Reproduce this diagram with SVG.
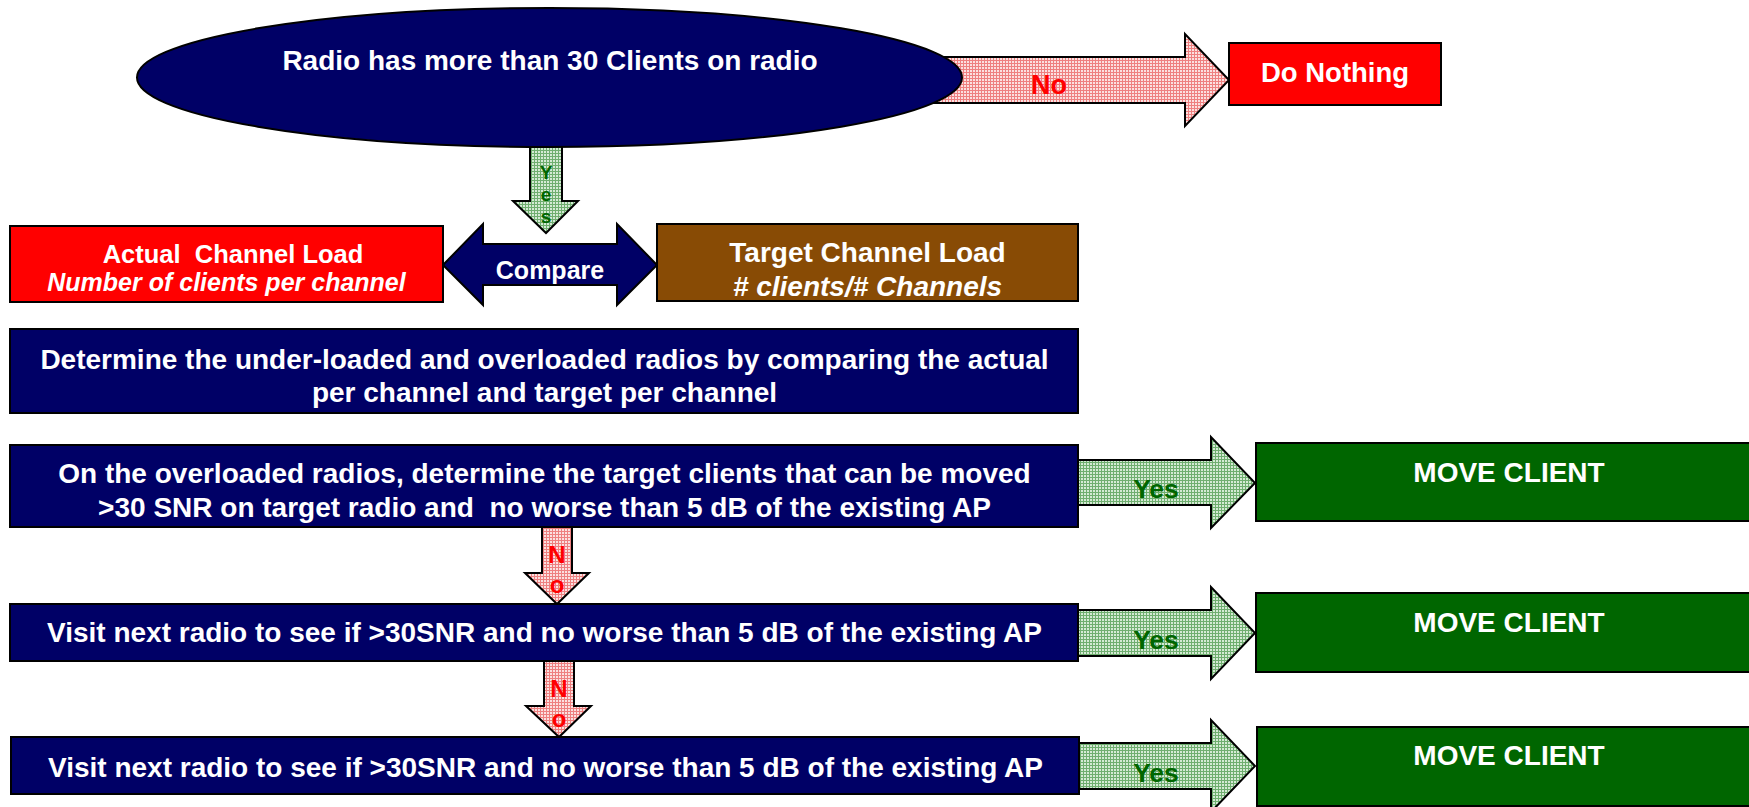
<svg xmlns="http://www.w3.org/2000/svg" width="1749" height="807" viewBox="0 0 1749 807">
  <defs>
    <!-- fine mesh fills for the decision arrows -->
    <pattern id="meshRed" width="3" height="3" patternUnits="userSpaceOnUse">
      <rect width="3" height="3" fill="#fbe0e0"/>
      <rect width="3" height="1" fill="#ee8080"/>
      <rect width="1" height="3" fill="#ee8080"/>
    </pattern>
    <pattern id="meshGreen" width="3" height="3" patternUnits="userSpaceOnUse">
      <rect width="3" height="3" fill="#d4ead4"/>
      <rect width="3" height="1" fill="#6fae6f"/>
      <rect width="1" height="3" fill="#6fae6f"/>
    </pattern>
    <style>
      text { font-family: "Liberation Sans", Arial, sans-serif; font-weight: bold; text-anchor: middle; }
      .box { stroke: #000; stroke-width: 2; }
      .navy { fill: #000066; }
      .red { fill: #ff0000; }
      .brown { fill: #884b05; }
      .green { fill: #006600; }
      .arrowNo { fill: url(#meshRed); stroke: #000; stroke-width: 2; stroke-linejoin: miter; }
      .arrowYes { fill: url(#meshGreen); stroke: #000; stroke-width: 2; stroke-linejoin: miter; }
      .arrowNavy { fill: #000066; stroke: #000; stroke-width: 2; }
      .w { fill: #ffffff; }
      .lblNo { fill: #ff0000; }
      .lblYes { fill: #006600; }
      .t28 { font-size: 28px; }
      .t25 { font-size: 25px; }
      .it { font-style: italic; }
    </style>
  </defs>

  <!-- connectors (drawn first so the shapes sit on top of their ends) -->
  <g id="connectors">
    <!-- No: start -> Do Nothing -->
    <g id="arrow-no-top">
      <polygon class="arrowNo" points="880,57 1185,57 1185,34 1229,80 1185,126 1185,103 880,103"/>
      <text class="lblNo" x="1049" y="94" style="font-size:27px">No</text>
    </g>
    <!-- Yes: start -> compare -->
    <g id="arrow-yes-down">
      <polygon class="arrowYes" points="530,135 562,135 562,201 578,201 546,233 513,201 530,201"/>
      <text class="lblYes" x="546" y="179" style="font-size:19px">Y</text>
      <text class="lblYes" x="546" y="201" style="font-size:19px">e</text>
      <text class="lblYes" x="546" y="223" style="font-size:19px">s</text>
    </g>
    <!-- Compare: double-headed arrow -->
    <g id="arrow-compare">
      <polygon class="arrowNavy" points="443,265 483,224 483,244 617,244 617,224 657,265 617,305 617,285 483,285 483,305"/>
      <text class="w" x="550" y="279" style="font-size:25px">Compare</text>
    </g>
    <!-- No: overloaded -> visit 1 -->
    <g id="arrow-no-1">
      <polygon class="arrowNo" points="542,527 572,527 572,573 589,573 557,604 525,573 542,573"/>
      <text class="lblNo" x="557" y="563" style="font-size:24px">N</text>
      <text class="lblNo" x="557" y="593" style="font-size:24px">o</text>
    </g>
    <!-- No: visit 1 -> visit 2 -->
    <g id="arrow-no-2">
      <polygon class="arrowNo" points="544,660 574,660 574,706 591,706 559,737 526,706 544,706"/>
      <text class="lblNo" x="559" y="697" style="font-size:24px">N</text>
      <text class="lblNo" x="559" y="727" style="font-size:24px">o</text>
    </g>
    <!-- Yes arrows to MOVE CLIENT -->
    <g id="arrow-yes-1">
      <polygon class="arrowYes" points="1078,460 1211,460 1211,437 1255,483 1211,528 1211,505 1078,505"/>
      <text class="lblYes" x="1156" y="498" style="font-size:26.5px">Yes</text>
    </g>
    <g id="arrow-yes-2">
      <polygon class="arrowYes" points="1078,610 1211,610 1211,587 1255,633 1211,679 1211,656 1078,656"/>
      <text class="lblYes" x="1156" y="649" style="font-size:26.5px">Yes</text>
    </g>
    <g id="arrow-yes-3">
      <polygon class="arrowYes" points="1079,743 1211,743 1211,720 1255,766 1211,812 1211,789 1079,789"/>
      <text class="lblYes" x="1156" y="782" style="font-size:26.5px">Yes</text>
    </g>
  </g>

  <!-- start condition -->
  <g id="node-start">
    <ellipse class="box navy" cx="549.5" cy="77.5" rx="412.5" ry="69.5"/>
    <text class="w t28" x="550" y="70">Radio has more than 30 Clients on radio</text>
  </g>

  <g id="node-do-nothing">
    <rect class="box red" x="1229" y="43" width="212" height="62"/>
    <text class="w" x="1335" y="82" style="font-size:27.5px">Do Nothing</text>
  </g>

  <g id="node-actual-load">
    <rect class="box red" x="10" y="226" width="433" height="76"/>
    <text class="w" x="233" y="263" style="font-size:25.5px" xml:space="preserve">Actual  Channel Load</text>
    <text class="w t25 it" x="226.5" y="291">Number of clients per channel</text>
  </g>

  <g id="node-target-load">
    <rect class="box brown" x="657" y="224" width="421" height="77"/>
    <text class="w t28" x="867.5" y="262">Target Channel Load</text>
    <text class="w t28 it" x="867.5" y="296"># clients/# Channels</text>
  </g>

  <g id="node-determine">
    <rect class="box navy" x="10" y="329" width="1068" height="84"/>
    <text class="w t28" x="544.5" y="369">Determine the under-loaded and overloaded radios by comparing the actual</text>
    <text class="w t28" x="544.5" y="402">per channel and target per channel</text>
  </g>

  <g id="node-overloaded">
    <rect class="box navy" x="10" y="445" width="1068" height="82"/>
    <text class="w t28" x="544.5" y="483">On the overloaded radios, determine the target clients that can be moved</text>
    <text class="w t28" x="544.5" y="517" xml:space="preserve">&gt;30 SNR on target radio and  no worse than 5 dB of the existing AP</text>
  </g>

  <g id="node-visit-1">
    <rect class="box navy" x="10" y="604" width="1068" height="57"/>
    <text class="w t28" x="544.5" y="642">Visit next radio to see if &gt;30SNR and no worse than 5 dB of the existing AP</text>
  </g>

  <g id="node-visit-2">
    <rect class="box navy" x="11" y="737" width="1068" height="57"/>
    <text class="w t28" x="545.5" y="777">Visit next radio to see if &gt;30SNR and no worse than 5 dB of the existing AP</text>
  </g>

  <g id="node-move-1">
    <rect class="box green" x="1256" y="443" width="500" height="78"/>
    <text class="w t28" x="1509" y="482">MOVE CLIENT</text>
  </g>
  <g id="node-move-2">
    <rect class="box green" x="1256" y="593" width="500" height="79"/>
    <text class="w t28" x="1509" y="632">MOVE CLIENT</text>
  </g>
  <g id="node-move-3">
    <rect class="box green" x="1257" y="727" width="500" height="79"/>
    <text class="w t28" x="1509" y="765">MOVE CLIENT</text>
  </g>
</svg>
